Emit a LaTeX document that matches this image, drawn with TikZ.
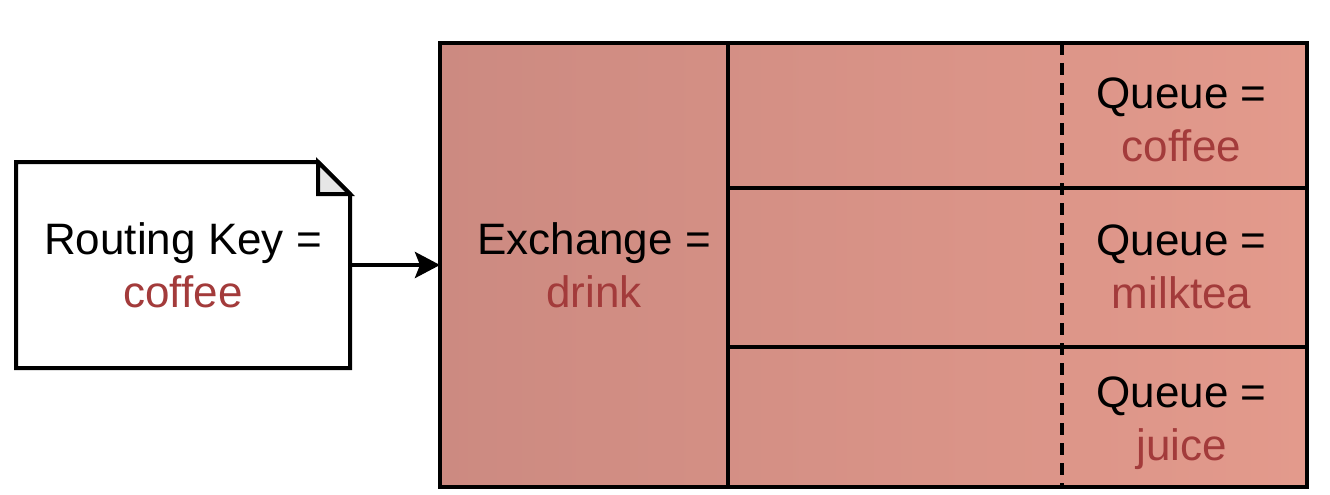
\documentclass[tikz,border=0pt]{standalone}
\usepackage{fontspec}
\setmainfont{Liberation Sans}
\usetikzlibrary{arrows.meta,positioning,calc}
\definecolor{valuered}{HTML}{A33B3B}
\definecolor{boxleft}{HTML}{CC8A81}
\definecolor{boxright}{HTML}{E39A8C}
\definecolor{foldgray}{HTML}{E6E6E6}
\tikzstyle{arrow} = [line width=4pt,-{Stealth[length=25pt,width=26pt,inset=5pt]}]
\tikzset{cell/.style={rectangle,draw,line width=4pt,inner sep=0pt,outer sep=0pt},cell text/.style={align=center,font=\fontsize{44}{53}\selectfont}}

\begin{document}
\begin{tikzpicture}[x=1pt,y=-1pt]
    \useasboundingbox (0,0) rectangle (1330,495);

    \node [cell text, draw=none, inner sep=0pt, outer sep=0pt, minimum width=334, minimum height=206] (key) at (183,265) {};
    \draw [line width=4pt, fill=white, line join=miter] (key.north west) -- ($(key.north east)+(-32,0)$) coordinate (foldA) -- ($(key.north east)+(0,32)$) coordinate (foldB) -- (key.south east) -- (key.south west) -- cycle;
    \draw [line width=4pt, fill=foldgray, line join=miter] (foldA) -- (foldB) -- (foldA |- foldB) -- cycle;
    \node [cell text] (keytext) at (key) {Routing Key =\\\textcolor{valuered}{coffee}};

    \coordinate (boxtl) at (440,43);
    \coordinate (boxbr) at (1307,487);
    \shade [left color=boxleft, right color=boxright] (boxtl) rectangle (boxbr); % background

    \node [cell, minimum width=288, minimum height=444, anchor=north west] (exchange) at (boxtl) {};
    \node [cell text, xshift=10pt] (exchangetext) at (exchange) {Exchange =\\\textcolor{valuered}{drink}};
    \node [cell, minimum width=579, minimum height=145, anchor=north west] (queue1) at (exchange.north east) {};
    \node [cell, minimum width=579, minimum height=159, below=0pt of queue1] (queue2) {};
    \node [cell, minimum width=579, minimum height=140, below=0pt of queue2] (queue3) {};

    \coordinate (cuttop) at ($(queue1.north west)+(334,0)$);
    \coordinate (cutbottom) at ($(queue3.south west)+(334,0)$);
    \draw [line width=4pt, dash pattern=on 12pt off 8pt] (cuttop) -- (cutbottom);

    \foreach \m/\drink/\dy in {1/coffee/4, 2/milktea/-1, 3/juice/6}
        {
        \node [cell text, xshift=164pt, yshift=-\dy pt] (queuetext\m) at (queue\m.center) {Queue =\\\textcolor{valuered}{\drink}};
        }

    \draw [arrow] (key.east) -- (exchange.west);
\end{tikzpicture}
\end{document}
